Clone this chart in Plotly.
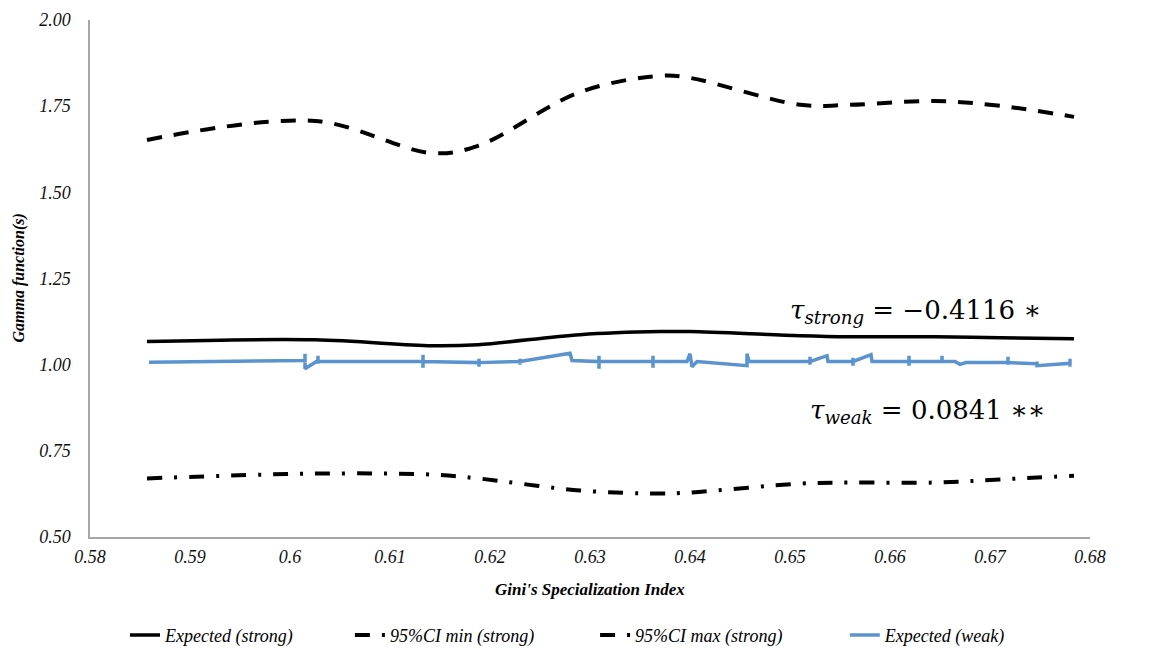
import plotly.graph_objects as go

# Gini specialization index values at which the strong-reciprocity series are reported
gini_strong = [0.5857, 0.6025, 0.6142, 0.6188, 0.6290, 0.6370, 0.6400,
               0.6510, 0.6560, 0.6645, 0.6710, 0.6784]
expected_strong = [1.067, 1.072, 1.055, 1.058, 1.087, 1.096, 1.096,
                   1.084, 1.081, 1.081, 1.078, 1.075]
ci_min_strong = [0.670, 0.684, 0.681, 0.670, 0.635, 0.626, 0.629,
                 0.655, 0.658, 0.658, 0.667, 0.678]
ci_max_strong = [1.652, 1.707, 1.614, 1.635, 1.791, 1.838, 1.832,
                 1.754, 1.754, 1.765, 1.751, 1.719]

# Weak-reciprocity expectation (repeated x values give the short vertical jumps)
gini_weak = [0.5859, 0.6010, 0.6015, 0.6015, 0.6015, 0.6028, 0.6028, 0.6028, 0.6028,
             0.6133, 0.6133, 0.6133, 0.6133,
             0.6189, 0.6189, 0.6189, 0.6189,
             0.6230, 0.6230, 0.6230, 0.6230,
             0.6280, 0.6282,
             0.6309, 0.6309, 0.6309, 0.6309,
             0.6363, 0.6363, 0.6363, 0.6363,
             0.6397, 0.6400, 0.6402, 0.6407,
             0.6457, 0.6457, 0.6459,
             0.6520, 0.6520, 0.6520, 0.6520,
             0.6537, 0.6538,
             0.6563, 0.6563, 0.6563, 0.6563,
             0.6581, 0.6582,
             0.6619, 0.6619, 0.6619, 0.6619,
             0.6652, 0.6652, 0.6652,
             0.6665, 0.6670, 0.6676,
             0.6718, 0.6718, 0.6718, 0.6718,
             0.6747, 0.6747, 0.6747,
             0.6780, 0.6780, 0.6780, 0.6780]
gamma_weak = [1.007, 1.012, 1.012, 1.032, 0.988, 1.012, 1.026, 1.003, 1.010,
              1.009, 1.029, 0.991, 1.009,
              1.006, 1.017, 0.994, 1.006,
              1.009, 1.017, 1.000, 1.009,
              1.033, 1.012,
              1.009, 1.026, 0.988, 1.009,
              1.009, 1.026, 0.991, 1.009,
              1.009, 1.032, 0.994, 1.009,
              0.997, 1.032, 1.009,
              1.009, 1.023, 1.000, 1.009,
              1.026, 1.009,
              1.009, 1.020, 0.997, 1.009,
              1.029, 1.009,
              1.009, 1.026, 0.997, 1.009,
              1.009, 1.026, 1.009,
              1.009, 1.001, 1.006,
              1.006, 1.023, 1.000, 1.006,
              1.003, 1.009, 0.997,
              1.004, 1.017, 0.994, 1.004]

x_ticks = [0.58, 0.59, 0.60, 0.61, 0.62, 0.63, 0.64, 0.65, 0.66, 0.67, 0.68]
x_tick_labels = ["0.58", "0.59", "0.6", "0.61", "0.62", "0.63", "0.64",
                 "0.65", "0.66", "0.67", "0.68"]
y_ticks = [0.50, 0.75, 1.00, 1.25, 1.50, 1.75, 2.00]
y_tick_labels = ["0.50", "0.75", "1.00", "1.25", "1.50", "1.75", "2.00"]

SERIF = "Liberation Serif"
BLUE = "#5B93CF"

fig = go.Figure()
fig.add_trace(go.Scatter(
    x=gini_strong, y=expected_strong, mode="lines", name="Expected (strong)",
    legend="legend",
    line=dict(color="black", width=3.5, shape="spline", smoothing=1.0)))
fig.add_trace(go.Scatter(
    x=gini_strong, y=ci_min_strong, mode="lines", name="95%CI min (strong)",
    legend="legend2",
    line=dict(color="black", width=4, shape="spline", smoothing=1.0,
              dash="15px,12px,3px,12px")))
fig.add_trace(go.Scatter(
    x=gini_strong, y=ci_max_strong, mode="lines", name="95%CI max (strong)",
    legend="legend3",
    line=dict(color="black", width=4, shape="spline", smoothing=1.0,
              dash="15px,12px")))
fig.add_trace(go.Scatter(
    x=gini_weak, y=gamma_weak, mode="lines", name="Expected (weak)",
    legend="legend4",
    line=dict(color=BLUE, width=3.5)))

tau_font = dict(family="DejaVu Serif", size=26, color="black")
fig.add_annotation(x=0.6625, y=1.155, xref="x", yref="y", showarrow=False,
                   text="<i>τ</i><sub><i>strong</i></sub> = −0.4116 ∗",
                   font=tau_font)
fig.add_annotation(x=0.6638, y=0.865, xref="x", yref="y", showarrow=False,
                   text="<i>τ</i><sub><i>weak</i></sub> = 0.0841 ∗∗",
                   font=tau_font)

# axis titles placed in paper coordinates so the plot area keeps its size
fig.add_annotation(x=0.5, y=-0.1025, xref="paper", yref="paper", showarrow=False,
                   xanchor="center", yanchor="middle",
                   text="<b><i>Gini's Specialization Index</i></b>",
                   font=dict(family=SERIF, size=17, color="black"))
fig.add_annotation(x=-0.072, y=0.5, xref="paper", yref="paper", showarrow=False,
                   xanchor="center", yanchor="middle", textangle=-90,
                   text="<b><i>Gamma function(s)</i></b>",
                   font=dict(family=SERIF, size=16, color="black"))

legend_style = dict(orientation="h", xref="container", xanchor="left",
                    y=0.002, yref="container", yanchor="bottom",
                    bgcolor="rgba(0,0,0,0)",
                    font=dict(family=SERIF, size=18, style="italic", color="black"))

fig.update_layout(
    width=1151, height=655,
    margin=dict(l=90, r=61, t=20, b=118, autoexpand=False),
    paper_bgcolor="white", plot_bgcolor="white",
    font=dict(family=SERIF, color="black"),
    showlegend=True,
    legend=dict(legend_style, x=0.1086),
    legend2=dict(legend_style, x=0.304),
    legend3=dict(legend_style, x=0.517),
    legend4=dict(legend_style, x=0.734),
    xaxis=dict(range=[0.58, 0.68], tickvals=x_ticks, ticktext=x_tick_labels,
               showgrid=False, zeroline=False, showline=True,
               linecolor="#A6A6A6", linewidth=1.5, ticks="",
               ticklabelstandoff=3, automargin=False,
               tickfont=dict(family=SERIF, size=18, style="italic", color="#111")),
    yaxis=dict(range=[0.50, 2.00], tickvals=y_ticks, ticktext=y_tick_labels,
               showgrid=False, zeroline=False, showline=True,
               linecolor="#A6A6A6", linewidth=1.5, ticks="",
               ticklabelstandoff=14, automargin=False,
               tickfont=dict(family=SERIF, size=18, style="italic", color="#111")),
)

fig.write_html("out.html")
